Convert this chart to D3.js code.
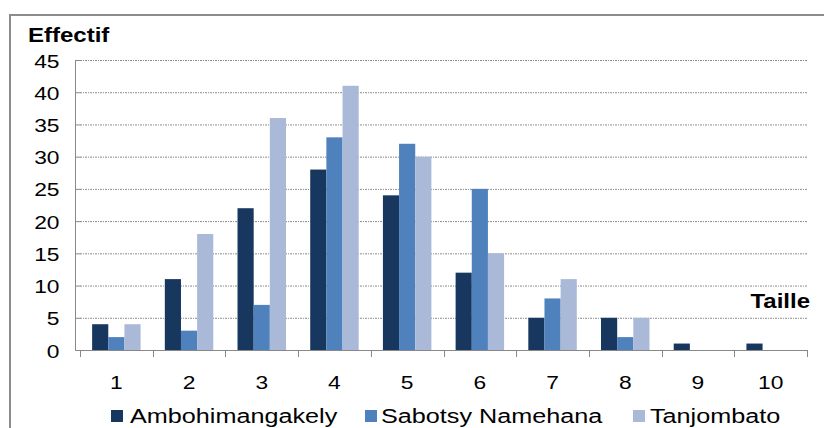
<!DOCTYPE html>
<html><head><meta charset="utf-8">
<script src="https://cdn.jsdelivr.net/npm/d3@7"></script>
<style>body{margin:0;background:#fff}svg{display:block;font-family:"Liberation Sans",Arial,sans-serif}</style>
</head><body><svg id="c" width="824" height="428"></svg>
<script>
const categories = ["1","2","3","4","5","6","7","8","9","10"];
const seriesNames = ["Ambohimangakely","Sabotsy Namehana","Tanjombato"];
const ambohimangakely = [4,11,22,28,24,12,5,5,1,1];
const sabotsyNamehana = [2,3,7,33,32,25,8,2,0,0];
const tanjombato = [4,18,36,41,30,15,11,5,0,0];
const yTicks = [0,5,10,15,20,25,30,35,40,45];
const colors = ["#17375e","#4f81bd","#aab9d8"];
const seriesValues = [ambohimangakely, sabotsyNamehana, tanjombato];
const SX = 1.2;

const svg = d3.select("#c");
// frame
svg.append("line").attr("x1",10).attr("x2",824).attr("y1",15).attr("y2",15).attr("stroke","#8c8c8c").attr("stroke-width",2);
svg.append("line").attr("x1",10).attr("x2",10).attr("y1",14).attr("y2",428).attr("stroke","#8c8c8c").attr("stroke-width",2);

const x0 = d3.scaleBand().domain(categories).range([80,807]).paddingInner(1/3).paddingOuter(1/6);
const x1 = d3.scaleBand().domain(seriesNames).range([0,x0.bandwidth()]);
const y = d3.scaleLinear().domain([0,45]).range([350,60]);

// gridlines
svg.append("g").selectAll("line").data(yTicks.filter(d=>d>0)).join("line")
  .attr("x1",80).attr("x2",807).attr("y1",d=>y(d)+0.5).attr("y2",d=>y(d)+0.5)
  .attr("stroke","#8a8a8a").attr("stroke-width",1).attr("stroke-dasharray","2,1,1,1");

// bars
const groups = svg.append("g").selectAll("g").data(categories).join("g")
  .attr("transform",d=>`translate(${x0(d)},0)`);
groups.selectAll("rect").data((c,i)=>seriesNames.map((s,j)=>({s,j,v:seriesValues[j][i]})))
  .join("rect")
  .attr("x",d=>x1(d.s)).attr("width",x1.bandwidth())
  .attr("y",d=>y(d.v)).attr("height",d=>y(0)-y(d.v))
  .attr("fill",d=>colors[d.j]);

// y axis
const yAxis = d3.axisLeft(y).tickValues(yTicks).tickSize(5).tickPadding(6);
const gy = svg.append("g").attr("transform","translate(80.5,0)").call(yAxis);
gy.select(".domain").attr("stroke","#888").attr("d","M-5,60V350.5H0");
gy.selectAll(".tick line").attr("stroke","#888");
gy.selectAll(".tick text").attr("font-size",19).attr("fill","#000")
  .attr("font-family","Liberation Sans, Arial, sans-serif")
  .attr("x",null).attr("dy",null).attr("y",7)
  .attr("transform",`translate(-21,0) scale(${SX},1)`);

// x axis
const xAxis = d3.axisBottom(x0).tickSize(0).tickPadding(0);
const gx = svg.append("g").attr("transform","translate(0,350.5)").call(xAxis);
gx.select(".domain").attr("stroke","#888").attr("d","M80,0H807");
gx.selectAll(".tick text").attr("font-size",19).attr("fill","#000")
  .attr("font-family","Liberation Sans, Arial, sans-serif")
  .attr("dy",null).attr("y",0)
  .attr("transform",`translate(0,38.5) scale(${SX},1)`);
// category boundary ticks
const bounds = d3.range(categories.length+1).map(i=>x0.range()[0]+i*x0.step());
svg.append("g").selectAll("line").data(bounds).join("line")
  .attr("x1",d=>Math.round(d)+0.5).attr("x2",d=>Math.round(d)+0.5).attr("y1",350).attr("y2",357)
  .attr("stroke","#888");

// titles
svg.append("text").attr("transform",`translate(28,42) scale(${SX},1)`).attr("font-size",20).attr("font-weight","bold").text("Effectif");
svg.append("text").attr("transform",`translate(810,308) scale(${SX},1)`).attr("text-anchor","end").attr("font-size",20).attr("font-weight","bold").text("Taille");

// legend
const legSq = [111,365,633];
const legTx = [130,381,650];
const leg = svg.append("g").selectAll("g").data(seriesNames).join("g");
leg.append("rect").attr("x",(d,i)=>legSq[i]).attr("y",410).attr("width",12).attr("height",12).attr("fill",(d,i)=>colors[i]);
leg.append("text").attr("transform",(d,i)=>`translate(${legTx[i]},423) scale(${SX},1)`).attr("font-size",21).text(d=>d);
</script></body></html>
